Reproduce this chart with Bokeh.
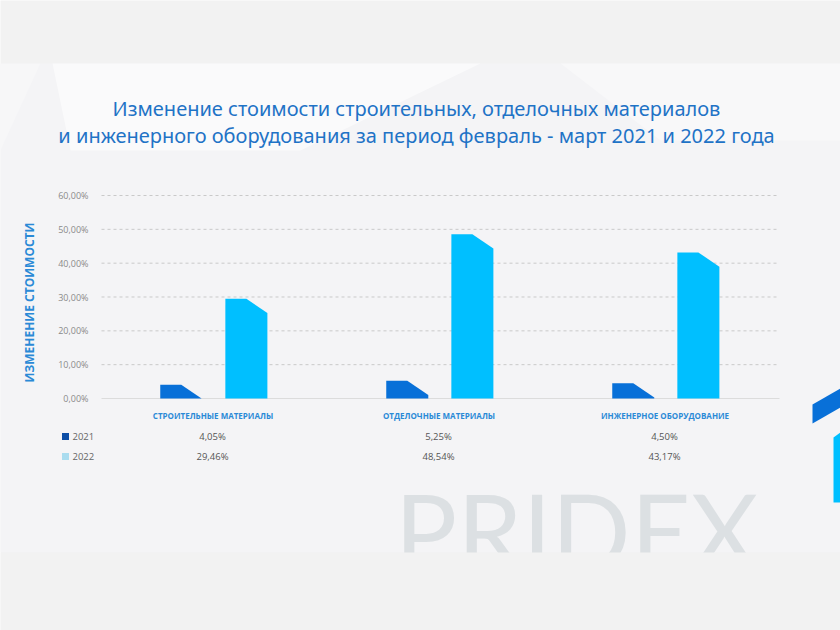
from math import pi

from bokeh.core.properties import value
from bokeh.embed import file_html
from bokeh.models import Range1d
from bokeh.plotting import figure
from bokeh.resources import INLINE

# ---- data -------------------------------------------------------------
categories = ["СТРОИТЕЛЬНЫЕ МАТЕРИАЛЫ", "ОТДЕЛОЧНЫЕ МАТЕРИАЛЫ", "ИНЖЕНЕРНОЕ ОБОРУДОВАНИЕ"]
years = ["2021", "2022"]
values_2021 = [4.05, 5.25, 4.50]
values_2022 = [29.46, 48.54, 43.17]
y_ticks = [0, 10, 20, 30, 40, 50, 60]

title_lines = [
    "Изменение стоимости строительных, отделочных материалов",
    "и инженерного оборудования за период февраль - март 2021 и 2022 года",
]
y_title = "ИЗМЕНЕНИЕ СТОИМОСТИ"

# ---- layout -----------------------------------------------------------
W, H = 840, 630
Y0_PX, Y60_PX = 398, 195          # rows of the 0 % and 60 % lines
X0_PX, X3_PX = 101, 779           # left / right ends of the category band
px_per_pct = (Y0_PX - Y60_PX) / 60.0
px_per_cat = (X3_PX - X0_PX) / 3.0

BLUE_2021 = "#0870d8"
BLUE_2022 = "#00bfff"
LEG_2021 = "#0d4ea6"
LEG_2022 = "#aadcef"
TITLE_BLUE = "#1f73c6"
LABEL_BLUE = "#2b8ad6"

p = figure(
    width=W, height=H, output_backend="svg", toolbar_location=None,
    x_range=Range1d(-X0_PX / px_per_cat, (W - X0_PX) / px_per_cat),
    y_range=Range1d(-(H - Y0_PX) / px_per_pct, 60 + Y60_PX / px_per_pct),
    x_axis_location=None, y_axis_location=None,
    min_border=0, outline_line_color=None,
)
# canvas-pixel ranges for decoration and the table under the bars
p.extra_x_ranges = {"px": Range1d(0, W)}
p.extra_y_ranges = {"px": Range1d(H, 0)}
p.grid.visible = False
p.background_fill_color = "#f2f2f2"
p.border_fill_color = "#f2f2f2"

PX = dict(x_range_name="px", y_range_name="px")

# ---- slide background ---------------------------------------------------
p.quad(left=0, right=W, top=63, bottom=552, fill_color="#f4f4f6", line_color=None, **PX)
p.patches(
    xs=[[52, 480, 300, 70], [560, 840, 840, 660], [0, 40, 0]],
    ys=[[63, 63, 150, 150], [63, 63, 140, 140], [63, 63, 150]],
    fill_color="#ffffff", fill_alpha=[0.55, 0.35, 0.25], line_color=None, **PX,
)

# watermark, cut off by the bottom band
p.text(x=[576], y=[529], text=["PRIDEX"], text_font=value("Lato"),
       text_font_size="104px", text_color="#dce0e3", text_align="center",
       text_baseline="alphabetic", **PX)
p.quad(left=0, right=W, top=552, bottom=H, fill_color="#f2f2f2", line_color=None, **PX)

# corner logo pieces on the right edge
p.patches(
    xs=[[812, 840, 840, 812], [833, 840, 840, 833]],
    ys=[[404, 388, 407, 423], [437, 432, 502, 502]],
    fill_color=[BLUE_2021, BLUE_2022], line_color=None, **PX,
)

# ---- title ---------------------------------------------------------------
p.text(x=[416, 416], y=[108, 135], text=title_lines, text_font=value("Noto Sans"),
       text_font_size="20px", text_color=TITLE_BLUE, text_align="center",
       text_baseline="middle", **PX)

# ---- grid & value labels -------------------------------------------------
dashed = [t for t in y_ticks if t != 0]
p.segment(x0=[0] * len(dashed), x1=[3] * len(dashed), y0=dashed, y1=dashed,
          line_color="#c9c9c9", line_width=1, line_dash="3 3")
p.segment(x0=[0], x1=[3], y0=[0], y1=[0], line_color="#dcdcdc", line_width=1.2)

tick_labels = [f"{t:.2f}".replace(".", ",") + "%" for t in y_ticks]
p.text(x=[0] * len(y_ticks), y=y_ticks, text=tick_labels, x_offset=-13,
       text_font=value("Open Sans"), text_font_size="9px", text_color="#8a8a8a",
       text_align="right", text_baseline="middle")

p.text(x=[29], y=[302], text=[y_title], angle=pi / 2, text_font=value("Open Sans"),
       text_font_size="12px", text_font_style="bold", text_color=LABEL_BLUE,
       text_align="center", text_baseline="middle", **PX)

# ---- bars with a bevelled top-right corner ------------------------------
BAR_W = 0.186
CUT = 4.2          # height of the bevel, in percentage points
offsets = {"2021": -0.147, "2022": 0.141}


def bar_outline(xc, v):
    x0, x1 = xc - BAR_W / 2, xc + BAR_W / 2
    xm = xc
    if v > CUT:
        return [x0, x0, xm, x1, x1], [0, v, v, v - CUT, 0]
    xz = xm + (x1 - xm) * v / CUT
    return [x0, x0, xm, xz], [0, v, v, 0]


for year, vals, color in ((years[0], values_2021, BLUE_2021), (years[1], values_2022, BLUE_2022)):
    xs, ys = [], []
    for i, v in enumerate(vals):
        bx, by = bar_outline(i + 0.5 + offsets[year], v)
        xs.append(bx)
        ys.append(by)
    p.patches(xs=xs, ys=ys, fill_color=color, line_color=None)

# ---- table under the chart -----------------------------------------------
centers = [i + 0.5 for i in range(len(categories))]
p.text(x=centers, y=[415] * 3, text=categories, x_offset=-1.5, text_font=value("Open Sans"),
       text_font_size="8px", text_font_style="bold", text_color=LABEL_BLUE,
       text_align="center", text_baseline="middle", y_range_name="px")

fmt = lambda v: f"{v:.2f}".replace(".", ",") + "%"
for row_y, vals in ((436, values_2021), (456, values_2022)):
    p.text(x=centers, y=[row_y] * 3, text=[fmt(v) for v in vals], x_offset=-2,
           text_font=value("Open Sans"), text_font_size="9.5px", text_color="#555555",
           text_align="center", text_baseline="middle", y_range_name="px")

p.scatter(x=[65, 65], y=[436, 456], marker="square", size=7,
          fill_color=[LEG_2021, LEG_2022], line_color=None, **PX)
p.text(x=[72, 72], y=[436, 456], text=years, text_font=value("Open Sans"),
       text_font_size="9.5px", text_color="#666666", text_align="left",
       text_baseline="middle", **PX)

open("out.html", "w").write(file_html(p, INLINE))
